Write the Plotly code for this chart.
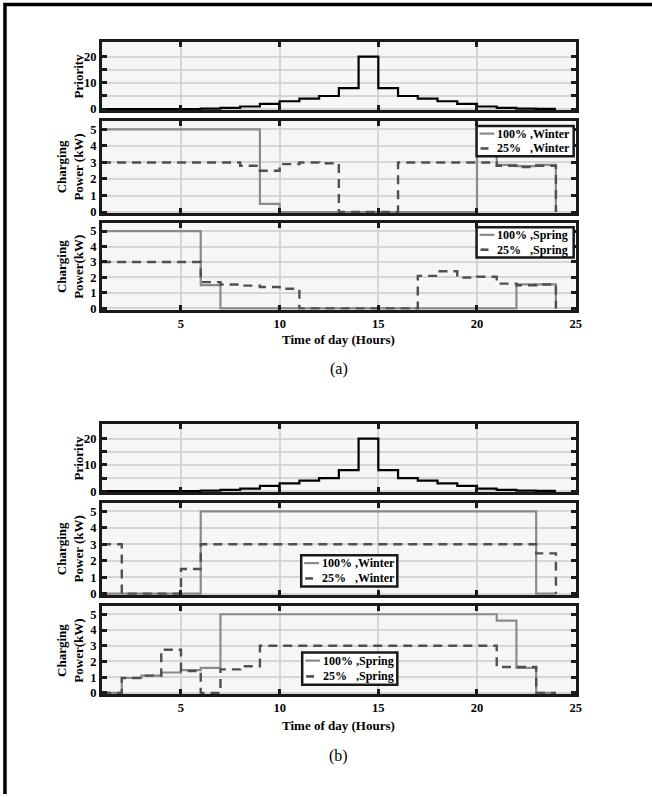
import plotly.graph_objects as go

# ---------------- data ----------------
hours = list(range(1, 25))
x_ticks = [5, 10, 15, 20, 25]
priority_ticks = [0, 5, 10, 15, 20]
priority_ticktext = ["0", "", "10", "", "20"]
power_ticks = [0, 1, 2, 3, 4, 5]

priority = [0, 0, 0, 0, 0, 0.2, 0.5, 1, 2, 3, 4, 5, 8, 20, 8, 5, 4, 3, 2, 1, 0.5, 0.2, 0.1, 0.1]

winter_a_100 = [5, 5, 5, 5, 5, 5, 5, 5, 0.5, 0, 0, 0, 0, 0, 0, 0, 0, 0, 0, 5, 2.85, 2.78, 2.85, 0]
winter_a_25 = [3, 3, 3, 3, 3, 3, 3, 2.8, 2.5, 2.9, 3.0, 2.95, 0, 0, 0, 3, 3, 3, 3, 3, 2.8, 2.72, 2.8, 0]
spring_a_100 = [5, 5, 5, 5, 5, 1.5, 0, 0, 0, 0, 0, 0, 0, 0, 0, 0, 0, 0, 0, 0, 0, 1.55, 1.55, 0]
spring_a_25 = [3, 3, 3, 3, 3, 1.7, 1.55, 1.47, 1.38, 1.27, 0, 0, 0, 0, 0, 0, 2.1, 2.4, 2.0, 2.05, 1.6, 1.5, 1.55, 0]

winter_b_100 = [0, 0, 0, 0, 0, 5, 5, 5, 5, 5, 5, 5, 5, 5, 5, 5, 5, 5, 5, 5, 5, 5, 0, 0]
winter_b_25 = [3, 0, 0, 0, 1.5, 3, 3, 3, 3, 3, 3, 3, 3, 3, 3, 3, 3, 3, 3, 3, 3, 3, 2.45, 0]
spring_b_100 = [0, 0.95, 1.1, 1.3, 1.45, 1.6, 5, 5, 5, 5, 5, 5, 5, 5, 5, 5, 5, 5, 5, 5, 4.6, 1.6, 0, 0]
spring_b_25 = [0, 0.95, 1.1, 2.75, 1.4, 0, 1.5, 1.7, 3, 3, 3, 3, 3, 3, 3, 3, 3, 3, 3, 3, 1.65, 1.65, 0, 0]

label_100_w = "100% ,Winter"
label_25_w = "25%\u00a0\u00a0\u00a0,Winter"
label_100_s = "100% ,Spring"
label_25_s = "25%\u00a0\u00a0\u00a0,Spring"
x_title = "Time of day (Hours)"

# ---------------- layout helpers ----------------
W, H = 652, 797
FONT = "Liberation Serif"
C100 = "#8a8a8a"
C25 = "#505050"
FRAME = "#1a1a1a"


def fx(p):
    return p / W


def fy(p):
    return 1 - p / H


XL, XR = 103, 581
panels = [(42.5, 111), (122, 215), (225, 312), (427.5, 496), (507, 599.5), (611, 699.5)]

fig = go.Figure()


def add_step(i, y, color, dash, width):
    fig.add_trace(go.Scatter(
        x=hours, y=y, mode="lines", line=dict(color=color, width=width, dash=dash, shape="hv"),
        xaxis=f"x{i}", yaxis=f"y{i}", showlegend=False, hoverinfo="skip"))


add_step(1, priority, "black", "solid", 2.2)
add_step(2, winter_a_100, C100, "solid", 2.2)
add_step(2, winter_a_25, C25, "9px,6px", 2.4)
add_step(3, spring_a_100, C100, "solid", 2.2)
add_step(3, spring_a_25, C25, "9px,6px", 2.4)
add_step(4, priority, "black", "solid", 2.2)
add_step(5, winter_b_100, C100, "solid", 2.2)
add_step(5, winter_b_25, C25, "9px,6px", 2.4)
add_step(6, spring_b_100, C100, "solid", 2.2)
add_step(6, spring_b_25, C25, "9px,6px", 2.4)

tickfont = dict(family=FONT, size=12.5, color="black", weight="bold")
common = dict(showline=True, linewidth=3, linecolor=FRAME, mirror="allticks", ticks="inside",
              ticklen=5, tickwidth=2.5, tickcolor=FRAME, showgrid=True, gridcolor="#d6d6d6",
              gridwidth=2, zeroline=False, tickfont=tickfont, fixedrange=True)

layout_axes = {}
for i, (top, bot) in enumerate(panels, start=1):
    xa = dict(common)
    xa.update(domain=[fx(XL), fx(XR)], range=[1, 25], tickmode="array", tickvals=x_ticks,
              anchor=f"y{i}", showticklabels=(i in (3, 6)))
    ya = dict(common)
    if i in (1, 4):
        ya.update(range=[-0.4, 25.5], tickmode="array", tickvals=priority_ticks,
                  ticktext=priority_ticktext)
    else:
        ya.update(range=[-0.08, 5.5], tickmode="array", tickvals=power_ticks)
    ya.update(domain=[fy(bot), fy(top)], anchor=f"x{i}")
    layout_axes["xaxis" if i == 1 else f"xaxis{i}"] = xa
    layout_axes["yaxis" if i == 1 else f"yaxis{i}"] = ya

fig.update_layout(**layout_axes)

annotations = []
shapes = []

# y-axis titles
ytitles = [(1, "Priority", 79), (2, "Charging<br>Power (kW)", 71), (3, "Charging<br>Power(kW)", 71),
           (4, "Priority", 79), (5, "Charging<br>Power (kW)", 71), (6, "Charging<br>Power(kW)", 71)]
for i, txt, xc in ytitles:
    top, bot = panels[i - 1]
    annotations.append(dict(text=txt, x=fx(xc), y=fy((top + bot) / 2), xref="paper", yref="paper",
                            textangle=-90, showarrow=False, xanchor="center", yanchor="middle",
                            font=dict(family=FONT, size=13, color="black", weight="bold")))

# x titles and captions
for yc in (342, 731):
    annotations.append(dict(text=x_title, x=fx((XL + XR) / 2), y=fy(yc), xref="paper", yref="paper",
                            showarrow=False, xanchor="center", yanchor="middle",
                            font=dict(family=FONT, size=13, color="black", weight="bold")))
for txt, yc in (("(a)", 372), ("(b)", 762)):
    annotations.append(dict(text=txt, x=fx((XL + XR) / 2), y=fy(yc), xref="paper", yref="paper",
                            showarrow=False, xanchor="center", yanchor="middle",
                            font=dict(family=FONT, size=16, color="black")))


# manual legends (box, sample lines, text)
def add_legend(x0, y0, x1, y1, lab1, lab2):
    shapes.append(dict(type="rect", xref="paper", yref="paper", x0=fx(x0), x1=fx(x1), y0=fy(y1), y1=fy(y0),
                       line=dict(color=FRAME, width=2.5), fillcolor="white", layer="above"))
    h = y1 - y0
    r1 = y0 + 0.25 * h
    r2 = y0 + 0.74 * h
    shapes.append(dict(type="line", xref="paper", yref="paper", x0=fx(x0 + 3), x1=fx(x0 + 18),
                       y0=fy(r1), y1=fy(r1), line=dict(color=C100, width=2.2), layer="above"))
    shapes.append(dict(type="line", xref="paper", yref="paper", x0=fx(x0 + 4), x1=fx(x0 + 12),
                       y0=fy(r2), y1=fy(r2), line=dict(color=C25, width=2.6), layer="above"))
    for lab, r in ((lab1, r1), (lab2, r2)):
        annotations.append(dict(text=lab, x=fx(x0 + 19), y=fy(r), xref="paper", yref="paper",
                                showarrow=False, xanchor="left", yanchor="middle",
                                font=dict(family=FONT, size=12, color="black", weight="bold")))


add_legend(481, 127, 579, 157.5, label_100_w, label_25_w)
add_legend(481, 229, 579, 259.5, label_100_s, label_25_s)
add_legend(304, 559.5, 401, 591, label_100_w, label_25_w)
add_legend(305, 657.5, 401, 690, label_100_s, label_25_s)

# outer figure frame (left and top edges)
shapes.append(dict(type="path", xref="paper", yref="paper",
                   path=f"M {fx(5)},{fy(800)} L {fx(5)},{fy(4.5)} L {fx(660)},{fy(4.5)}",
                   line=dict(color="black", width=3.5), layer="above"))

fig.update_layout(width=W, height=H, margin=dict(l=0, r=0, t=0, b=0), paper_bgcolor="white",
                  plot_bgcolor="#f6f6f6", showlegend=False, annotations=annotations, shapes=shapes,
                  font=dict(family=FONT))

fig.write_html("out.html", config={"displayModeBar": False})
